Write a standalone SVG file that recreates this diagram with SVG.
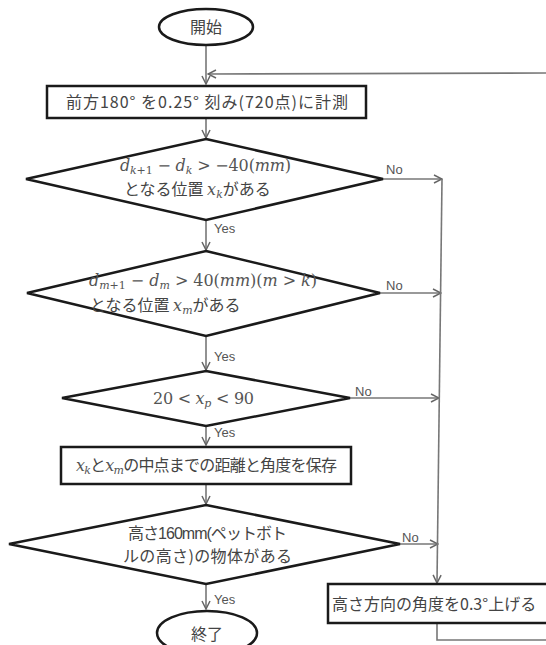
<svg xmlns="http://www.w3.org/2000/svg" width="546" height="645" viewBox="0 0 546 645">
<defs>
<marker id="arr" viewBox="0 0 10 10" refX="9" refY="5" markerWidth="10" markerHeight="10" markerUnits="userSpaceOnUse" orient="auto">
<path d="M1,1 L9,5 L1,9" fill="none" stroke="#666" stroke-width="1.5"/>
</marker>
<style>
.shape{fill:#fff;stroke:#1a1a1a;stroke-width:2.5}
.conn{fill:none;stroke:#777;stroke-width:1.6}
.jp{font-family:"Noto Sans CJK JP","Noto Sans",sans-serif;font-size:16px;fill:#444}
.lat{font-family:"Liberation Sans","Noto Sans CJK JP",sans-serif}
.lbl{font-family:"Liberation Sans","Noto Sans",sans-serif;font-size:13px;fill:#555}
.m{font-family:"DejaVu Serif","Liberation Serif",serif;font-size:16px;fill:#555}
.i{font-style:italic}
.s{font-size:11px}
</style>
</defs>
<rect width="546" height="645" fill="#fff"/>
<g id="connectors">
<path class="conn" d="M206,45 L206,84" marker-end="url(#arr)"/>
<path class="conn" d="M546,73 L208,74" marker-end="url(#arr)"/>
<path class="conn" d="M206,118 L206,138" marker-end="url(#arr)"/>
<path class="conn" d="M206,220 L206,250" marker-end="url(#arr)"/>
<path class="conn" d="M206,336 L206,370" marker-end="url(#arr)"/>
<path class="conn" d="M206,426 L206,445" marker-end="url(#arr)"/>
<path class="conn" d="M206,484 L206,504" marker-end="url(#arr)"/>
<path class="conn" d="M206,584 L206,609" marker-end="url(#arr)"/>
<path class="conn" d="M383,179 L442,179" marker-end="url(#arr)"/>
<path class="conn" d="M380,293 L441,293" marker-end="url(#arr)"/>
<path class="conn" d="M350,398 L439,398" marker-end="url(#arr)"/>
<path class="conn" d="M400,544 L438,544" marker-end="url(#arr)"/>
<path class="conn" d="M442,179 L437,583" marker-end="url(#arr)"/>
<path class="conn" d="M437,623 L437,640 L546,640"/>
<text class="lbl" x="386" y="174">No</text>
<text class="lbl" x="386" y="290">No</text>
<text class="lbl" x="355" y="396">No</text>
<text class="lbl" x="402" y="542">No</text>
<text class="lbl" x="214" y="233">Yes</text>
<text class="lbl" x="214" y="361">Yes</text>
<text class="lbl" x="214" y="437">Yes</text>
<text class="lbl" x="214" y="604">Yes</text>
</g>
<g id="start">
<ellipse class="shape" cx="206" cy="27" rx="47" ry="18"/>
<text class="jp" x="206" y="33" text-anchor="middle">開始</text>
</g>
<g id="measure">
<rect class="shape" x="47" y="86" width="319" height="32"/>
<text class="jp" x="66" y="108" font-size="17" textLength="282">前方180° を0.25° 刻み(720点)に計測</text>
</g>
<g id="cond1">
<polygon class="shape" points="206,139 383,179 206,220 26,179"/>
<text class="m" x="120" y="171" textLength="171"><tspan class="i">d</tspan><tspan class="s" dy="3"><tspan class="i">k</tspan>+1</tspan><tspan dy="-3"> − </tspan><tspan class="i">d</tspan><tspan class="s i" dy="3">k</tspan><tspan dy="-3"> &gt; −40(</tspan><tspan class="i">mm</tspan>)</text>
<text class="jp" x="124" y="195">となる位置 <tspan class="m i">x</tspan><tspan class="m i s" dy="3">k</tspan><tspan dy="-3">がある</tspan></text>
</g>
<g id="cond2">
<polygon class="shape" points="206,251 380,293 206,336 27,293"/>
<text class="m" x="89" y="286" textLength="228"><tspan class="i">d</tspan><tspan class="s" dy="3"><tspan class="i">m</tspan>+1</tspan><tspan dy="-3"> − </tspan><tspan class="i">d</tspan><tspan class="s i" dy="3">m</tspan><tspan dy="-3"> &gt; 40(</tspan><tspan class="i">mm</tspan>)(<tspan class="i">m</tspan> &gt; <tspan class="i">k</tspan>)</text>
<text class="jp" x="90" y="311">となる位置 <tspan class="m i">x</tspan><tspan class="m i s" dy="3">m</tspan><tspan dy="-3">がある</tspan></text>
</g>
<g id="cond3">
<polygon class="shape" points="206,371 350,398 206,426 62,398"/>
<text class="m" x="153" y="404" font-size="18" textLength="101">20 &lt; <tspan class="i">x</tspan><tspan class="s i" dy="3">p</tspan><tspan dy="-3"> &lt; 90</tspan></text>
</g>
<g id="save">
<rect class="shape" x="61" y="447" width="290" height="37"/>
<text class="jp" x="76" y="471" textLength="261"><tspan class="m i">x</tspan><tspan class="m i s" dy="3">k</tspan><tspan dy="-3">と</tspan><tspan class="m i">x</tspan><tspan class="m i s" dy="3">m</tspan><tspan dy="-3">の中点までの距離と角度を保存</tspan></text>
</g>
<g id="cond4">
<polygon class="shape" points="206,505 400,544 206,584 9,544"/>
<text class="jp" x="128" y="539" textLength="159">高さ<tspan class="lat">160mm(</tspan>ペットボト</text>
<text class="jp" x="123" y="562" textLength="169">ルの高さ)の物体がある</text>
</g>
<g id="raise">
<rect class="shape" x="328" y="584" width="230" height="39"/>
<text class="jp" x="332" y="610" font-size="16.4">高さ方向の角度を0.3°上げる</text>
</g>
<g id="end">
<ellipse class="shape" cx="207" cy="633" rx="50" ry="22"/>
<text class="jp" x="207" y="640" text-anchor="middle">終了</text>
</g>
</svg>
